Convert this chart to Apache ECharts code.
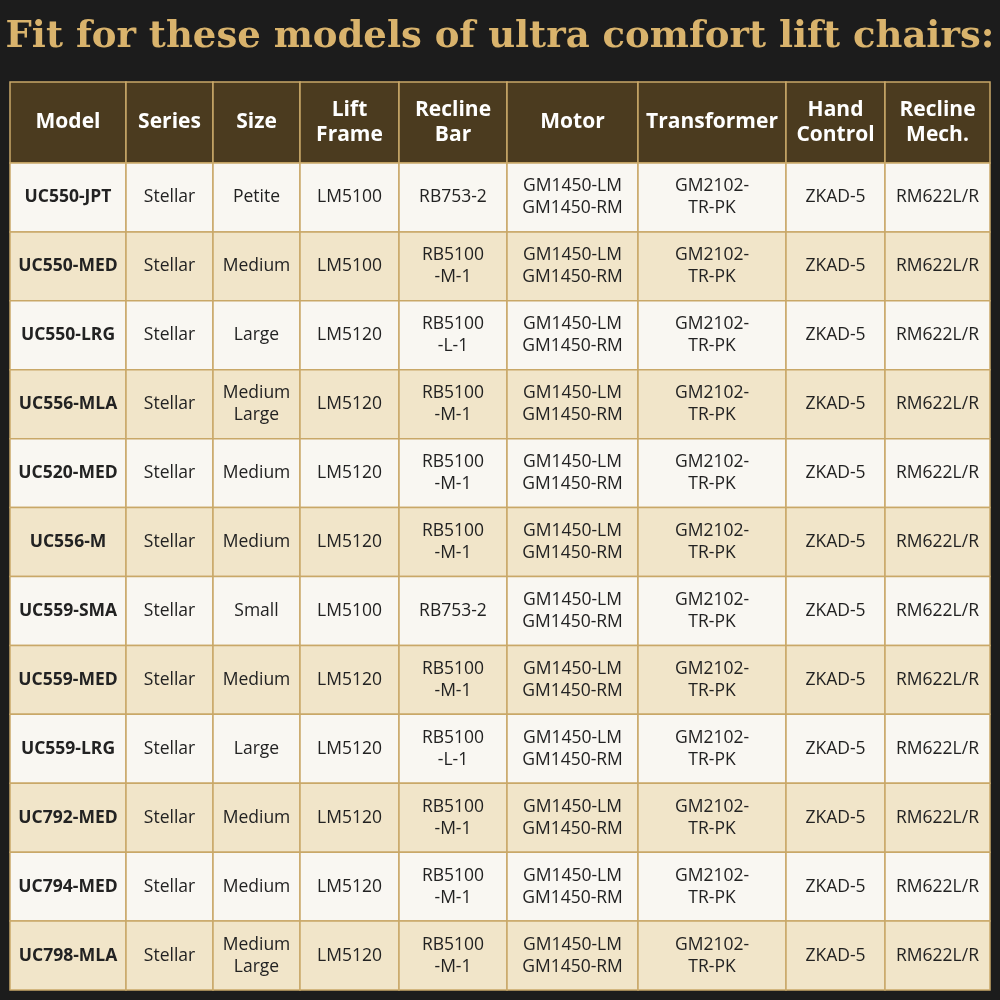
<!DOCTYPE html>
<html><head><meta charset="utf-8">
<script src="https://cdn.jsdelivr.net/npm/echarts@6/dist/echarts.min.js"></script>
<style>html,body{margin:0;padding:0;background:#1c1c1c}#c{width:1000px;height:1000px}</style>
</head><body><div id="c"></div>
<script>
const title = "Fit for these models of ultra comfort lift chairs:";
const headers = ["Model","Series","Size","Lift\nFrame","Recline\nBar","Motor","Transformer","Hand\nControl","Recline\nMech."];
const models = ["UC550-JPT","UC550-MED","UC550-LRG","UC556-MLA","UC520-MED","UC556-M","UC559-SMA","UC559-MED","UC559-LRG","UC792-MED","UC794-MED","UC798-MLA"];
const seriesNames = ["Stellar","Stellar","Stellar","Stellar","Stellar","Stellar","Stellar","Stellar","Stellar","Stellar","Stellar","Stellar"];
const sizes = ["Petite","Medium","Large","Medium\nLarge","Medium","Medium","Small","Medium","Large","Medium","Medium","Medium\nLarge"];
const liftFrames = ["LM5100","LM5100","LM5120","LM5120","LM5120","LM5120","LM5100","LM5120","LM5120","LM5120","LM5120","LM5120"];
const reclineBars = ["RB753-2","RB5100\n-M-1","RB5100\n-L-1","RB5100\n-M-1","RB5100\n-M-1","RB5100\n-M-1","RB753-2","RB5100\n-M-1","RB5100\n-L-1","RB5100\n-M-1","RB5100\n-M-1","RB5100\n-M-1"];
const motors = Array(12).fill("GM1450-LM\nGM1450-RM");
const transformers = Array(12).fill("GM2102-\nTR-PK");
const handControls = Array(12).fill("ZKAD-5");
const reclineMechs = Array(12).fill("RM622L/R");

const columns = [models,seriesNames,sizes,liftFrames,reclineBars,motors,transformers,handControls,reclineMechs];
// layout
const colEdges = [10,126,213,300,399,507,638,786,885,990];
const headTop = 82, headBot = 163, tableBot = 990;
const rowH = (tableBot - headBot) / models.length;

const data = [];
for (let c = 0; c < headers.length; c++) {
  data.push([c, -1, headers[c]]);
  for (let r = 0; r < models.length; r++) data.push([c, r, columns[c][r]]);
}

const chart = echarts.init(document.getElementById('c'));
chart.setOption({
  backgroundColor: '#1c1c1c',
  animation: false,
  title: { text: title, left: 'center', top: 14,
    textStyle: { color: '#d9b36c', fontFamily: 'DejaVu Serif', fontWeight: 'bold', fontSize: 37 } },
  grid: { left: 0, right: 0, top: 0, bottom: 0 },
  xAxis: { type: 'value', min: 0, max: 1000, show: false },
  yAxis: { type: 'value', min: 0, max: 1000, inverse: true, show: false },
  series: [{
    type: 'custom',
    data: data,
    renderItem: function (params, api) {
      const c = api.value(0), r = api.value(1);
      const txt = data[params.dataIndex][2];
      const y0 = r < 0 ? headTop : headBot + r * rowH;
      const y1 = r < 0 ? headBot : headBot + (r + 1) * rowH;
      const p0 = api.coord([colEdges[c], y0]);
      const p1 = api.coord([colEdges[c + 1], y1]);
      let fill;
      if (r < 0) fill = '#4b3b1f';
      else fill = (r % 2 === 0) ? '#f9f7f2' : '#f1e5c9';
      return {
        type: 'group',
        children: [
          { type: 'rect', shape: { x: p0[0], y: p0[1], width: p1[0] - p0[0], height: p1[1] - p0[1] },
            style: { fill: fill, stroke: '#c9a868', lineWidth: 1.5 } },
          { type: 'text', style: {
              text: txt, x: (p0[0] + p1[0]) / 2, y: (p0[1] + p1[1]) / 2,
              align: 'center', verticalAlign: 'middle',
              fill: r < 0 ? '#ffffff' : '#222222',
              fontFamily: 'Open Sans', fontSize: r < 0 ? 21 : 17.5,
              fontWeight: (r < 0 || c === 0) ? 'bold' : 'normal',
              lineHeight: r < 0 ? 25 : 22 } }
        ]
      };
    }
  }]
});
</script></body></html>
